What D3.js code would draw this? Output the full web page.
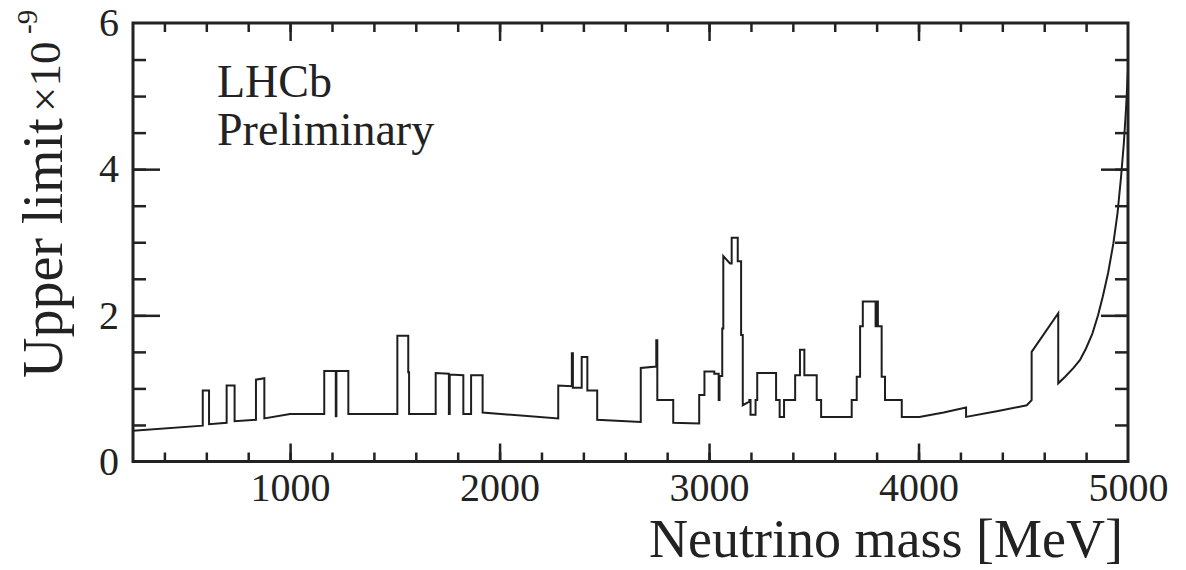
<!DOCTYPE html>
<html lang="en">
<head>
<meta charset="UTF-8">
<title>Upper limit vs neutrino mass</title>
<script src="https://d3js.org/d3.v7.min.js"></script>
<style>
  body { margin: 0; background: #fff; }
  svg text { font-family: "Liberation Serif", "DejaVu Serif", serif; fill: #222; }
</style>
</head>
<body>
<script>
// curve vertices (steps repeat the mass value)
const mass = [
  250, 583, 583, 613, 613, 697, 697, 735, 735, 837, 837, 877, 877, 1000,
  1163, 1163, 1218, 1218, 1221, 1221, 1278, 1278,
  1512, 1512, 1564, 1564, 1568, 1568,
  1695, 1695, 1758, 1758, 1762, 1762, 1827, 1827, 1864, 1864, 1919, 1919,
  2280, 2280, 2345, 2345, 2350, 2350, 2392, 2392, 2419, 2419, 2466, 2466,
  2674, 2674, 2748, 2748, 2753, 2753, 2829, 2829,
  2953, 2953, 2978, 2978, 3025, 3025, 3046, 3046, 3050, 3050, 3063, 3063,
  3068, 3068, 3100, 3108, 3108, 3137, 3137, 3153, 3153, 3161, 3161,
  3192, 3192, 3198, 3198, 3222, 3222, 3230, 3230, 3320, 3320, 3337, 3337,
  3358, 3358, 3411, 3411, 3434, 3434, 3455, 3455, 3514, 3514, 3535, 3535,
  3681, 3681, 3705, 3705, 3721, 3721, 3734, 3734, 3795, 3795, 3800, 3800,
  3806, 3806, 3824, 3824, 3840, 3840, 3920, 3920,
  4004, 4120, 4227, 4227, 4380, 4517, 4540, 4540, 4667, 4667,
  4700, 4740, 4771, 4800, 4830, 4857, 4880, 4905, 4930, 4950, 4967, 4980, 4990, 5000
];
const limit = [
  0.42, 0.49, 0.97, 0.97, 0.51, 0.53, 1.04, 1.04, 0.55, 0.57, 1.12, 1.14, 0.59, 0.65,
  0.65, 1.24, 1.24, 0.62, 0.62, 1.24, 1.24, 0.65,
  0.65, 1.72, 1.72, 1.22, 1.22, 0.65,
  0.65, 1.21, 1.20, 0.65, 0.65, 1.19, 1.18, 0.65, 0.65, 1.18, 1.18, 0.67,
  0.59, 1.04, 1.03, 1.48, 1.48, 1.01, 1.01, 1.43, 1.43, 0.97, 0.97, 0.57,
  0.54, 1.28, 1.30, 1.66, 1.66, 0.84, 0.84, 0.53,
  0.52, 0.91, 0.91, 1.23, 1.23, 1.20, 1.20, 0.84, 0.84, 1.17, 1.17, 1.82,
  1.82, 2.81, 2.71, 2.71, 3.06, 3.06, 2.74, 2.74, 1.73, 1.73, 0.77,
  0.82, 0.84, 0.84, 0.64, 0.64, 0.84, 0.84, 1.21, 1.21, 0.84, 0.84, 0.61,
  0.61, 0.84, 0.84, 1.18, 1.18, 1.53, 1.53, 1.18, 1.18, 0.84, 0.84, 0.61,
  0.61, 0.84, 0.84, 1.16, 1.16, 1.85, 1.85, 2.19, 2.19, 1.85, 1.85, 2.19,
  2.19, 1.85, 1.85, 1.16, 1.16, 0.84, 0.84, 0.61,
  0.61, 0.67, 0.74, 0.61, 0.69, 0.77, 0.84, 1.50, 2.03, 1.07,
  1.16, 1.28, 1.39, 1.55, 1.75, 2.00, 2.26, 2.58, 2.98, 3.40, 3.90, 4.35, 4.80, 5.36
];
const xMajor = [1000, 2000, 3000, 4000, 5000];
const xMinor = d3.range(400, 5000, 200);
const yMajor = [0, 2, 4, 6];
const yMinor = d3.range(0.5, 6, 0.5);

const w = 1186, h = 570;
const pLeft = 133, pRight = 1128, pTop = 23, pBottom = 461.5;

const x = d3.scaleLinear().domain([250, 5000]).range([pLeft, pRight]);
const y = d3.scaleLinear().domain([0, 6]).range([pBottom, pTop]);

const svg = d3.select("body").append("svg")
  .attr("width", w)
  .attr("height", h);

svg.append("clipPath").attr("id", "plot")
  .append("rect")
  .attr("x", pLeft).attr("y", pTop)
  .attr("width", pRight - pLeft).attr("height", pBottom - pTop);

const points = mass.map((m, i) => [m, limit[i]]);
svg.append("path")
  .datum(points)
  .attr("clip-path", "url(#plot)")
  .attr("fill", "none")
  .attr("stroke", "#1e1e1e")
  .attr("stroke-width", 2)
  .attr("stroke-linejoin", "miter")
  .attr("d", d3.line().x(d => x(d[0])).y(d => y(d[1])));

// tick marks only, pointing into the frame
function ticks(gen, values, size) {
  return gen.tickValues(values).tickSizeInner(-size).tickSizeOuter(0).tickFormat("");
}
function styleAxis(g, keepText) {
  g.select(".domain").remove();
  g.selectAll("line").attr("stroke", "#222").attr("stroke-width", 2.5);
  if (!keepText) g.selectAll("text").remove();
  g.selectAll("text").attr("font-size", 40).attr("fill", "#222")
    .style("font-family", '"Liberation Serif", "DejaVu Serif", serif');
}

const bottomG = svg.append("g").attr("transform", `translate(0,${pBottom})`);
bottomG.append("g").call(ticks(d3.axisBottom(x), xMinor, 9)).call(styleAxis);
bottomG.append("g").call(ticks(d3.axisBottom(x), xMajor.filter(v => v < 5000), 18)).call(styleAxis);
bottomG.append("g")
  .call(d3.axisBottom(x).tickValues(xMajor).tickSize(0).tickPadding(11).tickFormat(d3.format("d")))
  .call(styleAxis, true);

const topG = svg.append("g").attr("transform", `translate(0,${pTop})`);
topG.append("g").call(ticks(d3.axisTop(x), xMinor, 9)).call(styleAxis);
topG.append("g").call(ticks(d3.axisTop(x), xMajor.filter(v => v < 5000), 18)).call(styleAxis);

const leftG = svg.append("g").attr("transform", `translate(${pLeft},0)`);
leftG.append("g").call(ticks(d3.axisLeft(y), yMinor, 13)).call(styleAxis);
leftG.append("g").call(ticks(d3.axisLeft(y), yMajor.filter(v => v > 0 && v < 6), 27)).call(styleAxis);
leftG.append("g")
  .call(d3.axisLeft(y).tickValues(yMajor).tickSize(0).tickPadding(14).tickFormat(d3.format("d")))
  .call(styleAxis, true);

const rightG = svg.append("g").attr("transform", `translate(${pRight},0)`);
rightG.append("g").call(ticks(d3.axisRight(y), yMinor, 13)).call(styleAxis);
rightG.append("g").call(ticks(d3.axisRight(y), yMajor.filter(v => v > 0 && v < 6), 27)).call(styleAxis);

// frame
svg.append("rect")
  .attr("x", pLeft).attr("y", pTop)
  .attr("width", pRight - pLeft).attr("height", pBottom - pTop)
  .attr("fill", "none")
  .attr("stroke", "#222")
  .attr("stroke-width", 3);

// titles
svg.append("text")
  .attr("x", 1123).attr("y", 557)
  .attr("text-anchor", "end")
  .attr("font-size", 54)
  .text("Neutrino mass [MeV]");

svg.append("text")
  .attr("transform", "translate(62,378) rotate(-90)")
  .attr("font-size", 56)
  .text("Upper limit");
svg.append("text")
  .attr("transform", "translate(60,112) rotate(-90)")
  .attr("font-size", 45)
  .text("×10");
svg.append("text")
  .attr("transform", "translate(37,34) rotate(-90)")
  .attr("font-size", 29)
  .text("-9");

svg.append("text").attr("x", 217).attr("y", 97).attr("font-size", 46).text("LHCb");
svg.append("text").attr("x", 217).attr("y", 145).attr("font-size", 46).text("Preliminary");
</script>
</body>
</html>
